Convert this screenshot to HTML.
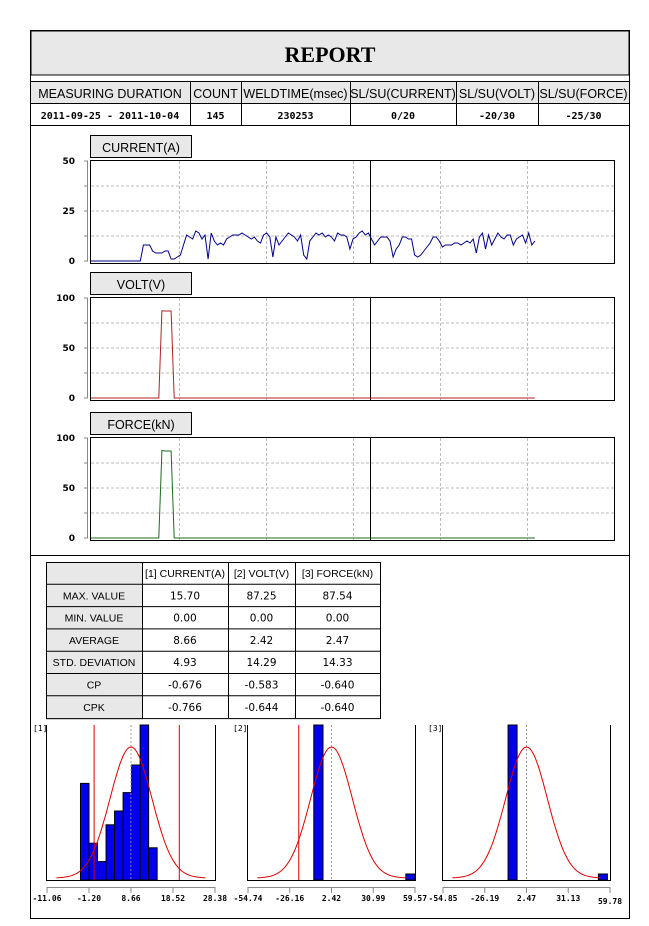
<!DOCTYPE html>
<html><head><meta charset="utf-8"><style>
body{margin:0;background:#fff;}
svg{display:block;font-family:"Liberation Sans","DejaVu Sans",sans-serif;}
.m{font-family:"DejaVu Sans Mono","Liberation Mono",monospace;font-weight:bold;}
</style></head><body>
<svg id="page" width="649" height="926" viewBox="0 0 649 926" xmlns="http://www.w3.org/2000/svg">
<rect x="30.5" y="30.5" width="599" height="888" fill="#fff" stroke="#000"/>
<rect x="31" y="31" width="598" height="44" fill="#e8e8e8" stroke="#000"/>
<text x="330" y="62" text-anchor="middle" font-family="Liberation Serif,serif" font-weight="bold" font-size="22">REPORT</text>
<g id="hdrG"></g>
<line x1="30" y1="555.5" x2="629" y2="555.5" stroke="#000"/>
<g id="chartsG"></g>
<g id="statsG"></g>
<g id="histsG"></g>
</svg>
<script>
// ---- data ----
const headerLabels=["MEASURING DURATION","COUNT","WELDTIME(msec)","SL/SU(CURRENT)","SL/SU(VOLT)","SL/SU(FORCE)"];
const headerValues=["2011-09-25 - 2011-10-04","145","230253","0/20","-20/30","-25/30"];
const currentValues=[0,0,0,0,0,0,0,0,0,0,0,0,0,0,0,0,0,
8,8,8,5,4,4,4,5,5,1,1,2,3,8,13,12,11,15,14,11,13,1,14,10,8,9,8,11,12,13,13,13,14,13,12,11,12,10,9,13,14,12,2,12,8,10,12,14,13,12,10,13,3,1,10,12,14,13,14,12,13,12,10,14,13,13,12,6,11,12,14,15,13,14,11,8,10,12,12,12,10,2,6,8,12,12,11,11,3,2,3,5,7,9,12,12,10,7,8,8,8,9,9,8,9,10,9,11,4,12,14,6,13,8,11,14,12,11,13,13,8,11,12,13,9,14,8,10];
const voltValues=[0,0,0,0,0,0,0,0,0,0,0,0,0,0,0,0,0,0,0,0,0,0,0,87.25,87,87,87,0,0,0,0,0,0,0,0,0,0,0,0,0,0,0,0,0,0,0,0,0,0,0,0,0,0,0,0,0,0,0,0,0,0,0,0,0,0,0,0,0,0,0,0,0,0,0,0,0,0,0,0,0,0,0,0,0,0,0,0,0,0,0,0,0,0,0,0,0,0,0,0,0,0,0,0,0,0,0,0,0,0,0,0,0,0,0,0,0,0,0,0,0,0,0,0,0,0,0,0,0,0,0,0,0,0,0,0,0,0,0,0,0,0,0,0,0,0];
const forceValues=[0,0,0,0,0,0,0,0,0,0,0,0,0,0,0,0,0,0,0,0,0,0,0,87.54,87,87,87,0,0,0,0,0,0,0,0,0,0,0,0,0,0,0,0,0,0,0,0,0,0,0,0,0,0,0,0,0,0,0,0,0,0,0,0,0,0,0,0,0,0,0,0,0,0,0,0,0,0,0,0,0,0,0,0,0,0,0,0,0,0,0,0,0,0,0,0,0,0,0,0,0,0,0,0,0,0,0,0,0,0,0,0,0,0,0,0,0,0,0,0,0,0,0,0,0,0,0,0,0,0,0,0,0,0,0,0,0,0,0,0,0,0,0,0,0,0];
const currentTicks=["50","25","0"], voltTicks=["100","50","0"], forceTicks=["100","50","0"];
const statRows=["MAX. VALUE","MIN. VALUE","AVERAGE","STD. DEVIATION","CP","CPK"];
const statCols=["[1] CURRENT(A)","[2] VOLT(V)","[3] FORCE(kN)"];
const statCurrent=["15.70","0.00","8.66","4.93","-0.676","-0.766"];
const statVolt=["87.25","0.00","2.42","14.29","-0.583","-0.644"];
const statForce=["87.54","0.00","2.47","14.33","-0.640","-0.640"];
const hist1Counts=[21,8,4,12,15,19,25,40,7];
const hist2Counts=[140,0,0,0,0,0,0,0,0,0,5];
const hist3Counts=[140,0,0,0,0,0,0,0,0,0,5];
const hist1Ticks=[-11.06,-1.20,8.66,18.52,28.38];
const hist2Ticks=[-54.74,-26.16,2.42,30.99,59.57];
const hist3Ticks=[-54.85,-26.19,2.47,31.13,59.78];
const hist1Limits=[0,20], hist2Limits=[-20], hist3Limits=[];
const histMeans=[8.66,2.42,2.47], histSds=[4.93,14.29,14.33];
const histBinStart=[-3.2,-9.7,-10.2], histBinWidth=[2.0,6.3,6.2];

const NS="http://www.w3.org/2000/svg";
function mk(parent,tag,attrs,txt){const e=document.createElementNS(NS,tag);for(const k in attrs)e.setAttribute(k,attrs[k]);if(txt!==undefined)e.textContent=txt;parent.appendChild(e);return e;}

// ---- header table ----
const hdrEl=document.getElementById('hdrG');
const colX=[30,190,241,350,456,538,629];
mk(hdrEl,'rect',{x:30.5,y:81.5,width:599,height:44,fill:'#fff',stroke:'#000'});
mk(hdrEl,'rect',{x:30.5,y:81.5,width:599,height:22,fill:'#e8e8e8',stroke:'#000'});
for(let i=1;i<colX.length-1;i++){mk(hdrEl,'line',{x1:colX[i]+.5,y1:81,x2:colX[i]+.5,y2:125,stroke:'#000'});}
mk(hdrEl,'line',{x1:30,y1:103.5,x2:629,y2:103.5,stroke:'#000'});
headerLabels.forEach((t,i)=>{const e=mk(hdrEl,'text',{x:(colX[i]+colX[i+1])/2,y:98,'text-anchor':'middle','font-size':'12.5'},t);

});
headerValues.forEach((t,i)=>{const e=mk(hdrEl,'text',{x:(colX[i]+colX[i+1])/2,y:119,'text-anchor':'middle','font-size':'10',class:'m'},t);

});

// ---- line charts ----
const chartsEl=document.getElementById('chartsG');
function lineChart(name,label,top,ymax,ticks,vals,color){
  const g=mk(chartsEl,'g',{});
  
  
  const L=90,R=614,T=top,B=top+103,xmax=170;
  const x=i=>L+1+i*(R-L)/xmax, y=v=>B-2-v*(B-T-3)/ymax;
  const lb=mk(g,'rect',{x:90.5,y:top-24.5,width:101,height:22,fill:'#e8e8e8',stroke:'#000'});
  
  
  mk(g,'text',{x:141,y:top-8,'text-anchor':'middle','font-size':'12.5'},label);
  mk(g,'rect',{x:L+.5,y:T+.5,width:R-L,height:B-T,fill:'#fff',stroke:'#000'});
  [179,266,353,440,527].forEach(gx=>mk(g,'line',{x1:gx+.5,y1:T+1,x2:gx+.5,y2:B,stroke:'#bbb','stroke-dasharray':'3,2'}));
  for(let k=1;k<4;k++){const v=ymax*k/4;mk(g,'line',{x1:L+1,y1:y(v),x2:R,y2:y(v),stroke:'#bbb','stroke-dasharray':'3,2'});}
  mk(g,'line',{x1:370.5,y1:T,x2:370.5,y2:B,stroke:'#000'});
  mk(g,'line',{x1:87.5,y1:y(ymax),x2:87.5,y2:y(0),stroke:'#888'});
  for(let k=0;k<=4;k++){mk(g,'line',{x1:84,y1:y(ymax*k/4),x2:88,y2:y(ymax*k/4),stroke:'#888'});}
  ticks.forEach((t,i)=>{mk(g,'text',{x:75,y:y(ymax*(1-i/2))+3,'text-anchor':'end','font-size':'9','font-weight':'bold','font-family':'DejaVu Sans,sans-serif'},t);});
  const p=mk(g,'polyline',{points:vals.map((v,i)=>x(i).toFixed(1)+','+y(v).toFixed(1)).join(' '),fill:'none',stroke:color,'stroke-width':'1'});
  
  
}
lineChart('current','CURRENT(A)',160,50,currentTicks,currentValues,'#00008b');
lineChart('volt','VOLT(V)',297,100,voltTicks,voltValues,'#b22222');
lineChart('force','FORCE(kN)',437,100,forceTicks,forceValues,'#1e6b1e');

// ---- stats table ----
const stEl=document.getElementById('statsG');
const sx=[46,142,228,295,380], sy0=562, rh=22.3;
mk(stEl,'rect',{x:46.5,y:sy0+.5,width:334,height:rh*7,fill:'#fff',stroke:'#000'});
mk(stEl,'rect',{x:46.5,y:sy0+.5,width:96,height:rh*7,fill:'#e8e8e8',stroke:'#000'});
for(let i=1;i<7;i++)mk(stEl,'line',{x1:46,y1:sy0+i*rh,x2:380,y2:sy0+i*rh,stroke:'#000'});
for(let i=1;i<4;i++)mk(stEl,'line',{x1:sx[i]+.5,y1:sy0,x2:sx[i]+.5,y2:sy0+7*rh,stroke:'#000'});
statCols.forEach((t,i)=>mk(stEl,'text',{x:(sx[i+1]+sx[i+2])/2,y:sy0+15,'text-anchor':'middle','font-size':'10.5'},t));
const statColsData=[statCurrent,statVolt,statForce];
statRows.forEach((t,r)=>{const yy=sy0+(r+1)*rh+15;
  mk(stEl,'text',{x:94,y:yy,'text-anchor':'middle','font-size':'10.5'},t);
  statColsData.forEach((c,i)=>{const e=mk(stEl,'text',{x:(sx[i+1]+sx[i+2])/2,y:yy,'text-anchor':'middle','font-size':'10.5','font-family':'DejaVu Sans,sans-serif'},c[r]);
  
  });
});

// ---- histograms ----
const hsEl=document.getElementById('histsG');
function hist(idx,left,right,ticks,counts,limits,labelX){
  const g=mk(hsEl,'g',{});
  
  
  const T=725,B=880,lo=ticks[0],hi=ticks[ticks.length-1];
  const x=v=>left+(v-lo)/(hi-lo)*(right-left);
  const ypc=idx===0?4.6:1.2;
  mk(g,'text',{x:labelX,y:731,'font-size':'8','font-family':'DejaVu Sans Mono,monospace'},'['+(idx+1)+']');
  counts.forEach((c,i)=>{if(!c)return;const x0=x(histBinStart[idx]+i*histBinWidth[idx]),x1=x(histBinStart[idx]+(i+1)*histBinWidth[idx]);
    const top=Math.max(T,B-c*ypc);
    const r=mk(g,'rect',{x:x0,y:top,width:x1-x0,height:B-top,fill:'#0000ee',stroke:'#000','stroke-width':'1'});
    
    });
  mk(g,'line',{x1:x(histMeans[idx]),y1:T,x2:x(histMeans[idx]),y2:B,stroke:'#999','stroke-dasharray':'2,2'});
  limits.forEach(v=>mk(g,'line',{x1:x(v),y1:T,x2:x(v),y2:B,stroke:'#dd0000'}));
  const m=histMeans[idx],s=histSds[idx];let pts=[];
  for(let k=0;k<=80;k++){const v=m-3.55*s+k*7.1*s/80;const z=(v-m)/s;pts.push(x(v).toFixed(1)+','+(B-2-131*Math.exp(-(z*z)/2)).toFixed(1));}
  const c=mk(g,'polyline',{points:pts.join(' '),fill:'none',stroke:'#dd0000','stroke-width':'1'});
  
  
  mk(g,'polyline',{points:`${left-0.5},${T} ${left-0.5},${B+0.5} ${right+0.5},${B+0.5} ${right+0.5},${T}`,fill:'none',stroke:'#000'});
  mk(g,'line',{x1:left,y1:887.5,x2:right,y2:887.5,stroke:'#888'});
  ticks.forEach((t,i)=>{mk(g,'line',{x1:x(t),y1:887,x2:x(t),y2:893,stroke:'#888'});
    mk(g,'text',{x:x(t),y:(idx===2&&i===4)?904:901,'text-anchor':'middle','font-size':'8','class':'m'},t.toFixed(2));});
}
hist(0,47,215,hist1Ticks,hist1Counts,hist1Limits,33);
hist(1,248,415,hist2Ticks,hist2Counts,hist2Limits,233);
hist(2,443,610,hist3Ticks,hist3Counts,hist3Limits,428);
</script>
</body></html>
